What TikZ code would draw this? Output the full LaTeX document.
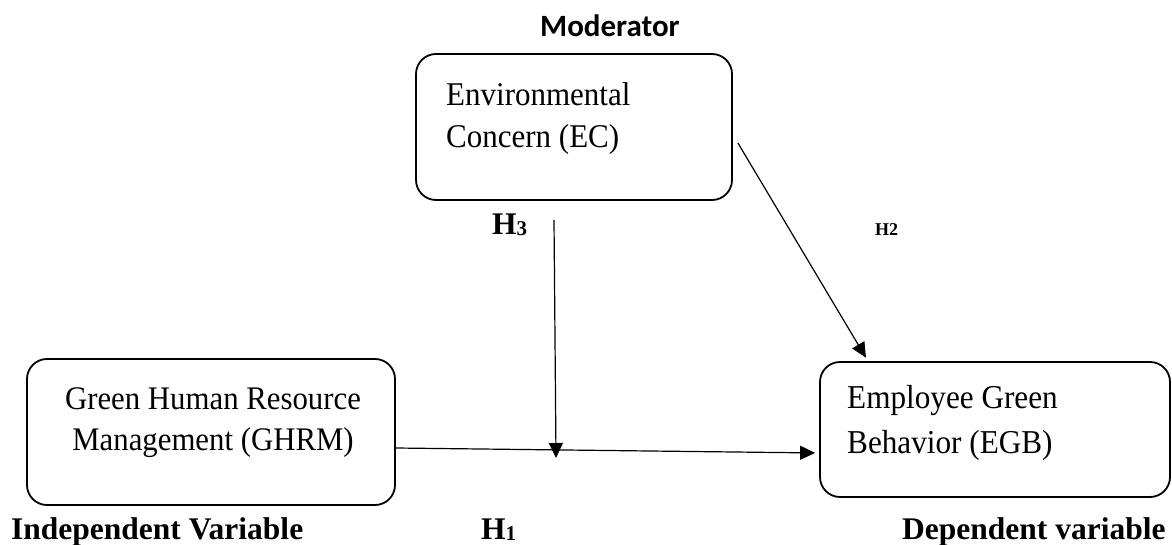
\documentclass[tikz,border=0pt]{standalone}
\usepackage{fontspec}
\setmainfont{Liberation Serif}
\newfontfamily\modfont{Carlito}
\usetikzlibrary{arrows.meta}
\begin{document}
\begin{tikzpicture}[x=1pt,y=-1pt,
  box/.style={draw, line width=1.8pt, rounded corners=20pt, inner sep=0pt},
  boxtext/.style={inner sep=0pt, anchor=base west, align=left, yscale=1.07, transform shape},
  lbl/.style={font=\fontsize{31.5}{38}\selectfont\bfseries, inner sep=0pt, anchor=base west},
  conn/.style={line width=1.2pt, -{Triangle[length=15pt,width=14pt]}}]
\useasboundingbox (0,0) rectangle (1172,545);
% boxes
\node[box, minimum width=316pt, minimum height=146pt] (ec) at (574,127) {};
\node[box, minimum width=368pt, minimum height=146pt] (ghrm) at (211,432) {};
\node[box, minimum width=350pt, minimum height=135pt] (egb) at (995,429.5) {};
% texts (base anchor = baseline of last line)
\node[font=\modfont\fontsize{31}{36}\selectfont\bfseries, inner sep=0pt, anchor=base west] (mod) at (540,37) {Moderator};
\node[boxtext, font=\fontsize{31}{40}\selectfont] (ect) at (446,148) {Environmental\\Concern (EC)};
\node[boxtext, font=\fontsize{30.8}{38.3}\selectfont, align=center, anchor=base] (ghrmt) at (213,450) {Green Human Resource\\Management (GHRM)};
\node[boxtext, font=\fontsize{31.2}{42}\selectfont] (egbt) at (847,453) {Employee Green\\Behavior (EGB)};
\node[lbl] (h3) at (492,235) {H\raisebox{-1pt}{\fontsize{21}{21}\selectfont 3}};
\node[lbl, font=\fontsize{18}{20}\selectfont\bfseries] (h2) at (875,236) {H2};
\node[lbl] (h1) at (481,539) {H\raisebox{-1pt}{\fontsize{21}{21}\selectfont 1}};
\node[lbl] (iv) at (11,539) {Independent Variable};
\node[lbl] (dv) at (902,539) {Dependent variable};
% connectors
\coordinate (h3top) at (554,220);
\coordinate (join) at (556,458);
\draw[conn] (h3top) -- (join);
\draw[conn, shorten >=4pt] ([yshift=-16pt]ghrm.east) -- ([yshift=-23.5pt]egb.west);
\draw[conn, shorten >=4pt] ([shift={(5pt,-16pt)}]ec.east) -- ([xshift=-127pt]egb.north);
\end{tikzpicture}
\end{document}
